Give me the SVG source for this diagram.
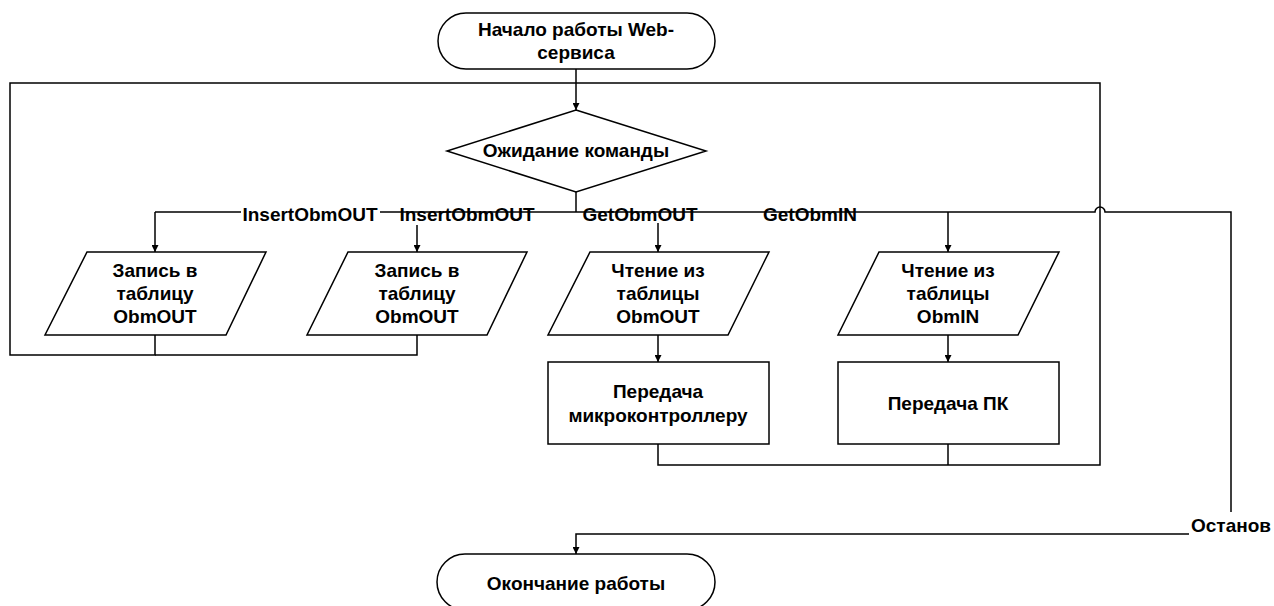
<svg xmlns="http://www.w3.org/2000/svg" width="1274" height="606" viewBox="0 0 1274 606">
<defs>
<style>
.s{fill:#fff;stroke:#000;stroke-width:1.5}
.c{fill:none;stroke:#000;stroke-width:1.5}
text{font-family:"Liberation Sans",Arial,sans-serif;font-weight:bold;font-size:19px;fill:#000;text-anchor:middle}
.bg{fill:#fff;stroke:none}
</style>
<marker id="ah" viewBox="0 0 10 10" refX="10" refY="5" markerWidth="7" markerHeight="7" markerUnits="userSpaceOnUse" orient="auto">
<path d="M0,0 L10,5 L0,10 z" fill="#000"/>
</marker>
</defs>
<rect width="1274" height="606" fill="#fff"/>

<g id="connectors">
<path class="c" d="M155,335 V355 H10 V83 H1100 V465 H658 V444"/>
<path class="c" d="M417,335 V355 H155"/>
<path class="c" d="M948,444 V465"/>
<path class="c" d="M576,69 V110" marker-end="url(#ah)"/>
<path class="c" d="M576,192 V212"/>
<path class="c" d="M155,212 H1095 A5,5 0 0 1 1105,212 H1231 V512"/>
<path class="c" d="M155,212 V252" marker-end="url(#ah)"/>
<path class="c" d="M417,225 V252" marker-end="url(#ah)"/>
<path class="c" d="M658,223 V252" marker-end="url(#ah)"/>
<path class="c" d="M948,212 V252" marker-end="url(#ah)"/>
<path class="c" d="M658,335 V362" marker-end="url(#ah)"/>
<path class="c" d="M948,335 V362" marker-end="url(#ah)"/>
<path class="c" d="M1189,534 H576 V554" marker-end="url(#ah)"/>
<rect class="bg" x="241" y="203" width="139" height="22"/>
<text x="310" y="221">InsertObmOUT</text>
<text x="467" y="221">InsertObmOUT</text>
<text x="640" y="221">GetObmOUT</text>
<text x="810" y="221">GetObmIN</text>
<text x="1231" y="532">Останов</text>
</g>

<g id="start">
<rect class="s" x="438" y="13" width="277" height="56" rx="28" ry="28"/>
<text x="576" y="36">Начало работы Web-</text>
<text x="576" y="59">сервиса</text>
</g>

<g id="wait">
<polygon class="s" points="576,110 706,151 576,192 447,151"/>
<text x="576" y="157">Ожидание команды</text>
</g>

<g id="write1">
<polygon class="s" points="87,252 266,252 226,335 45,335"/>
<text x="155" y="277">Запись в</text>
<text x="155" y="300">таблицу</text>
<text x="155" y="323">ObmOUT</text>
</g>

<g id="write2">
<polygon class="s" points="348,252 527,252 487,335 307,335"/>
<text x="417" y="277">Запись в</text>
<text x="417" y="300">таблицу</text>
<text x="417" y="323">ObmOUT</text>
</g>

<g id="read1">
<polygon class="s" points="590,252 769,252 728,335 548,335"/>
<text x="658" y="277">Чтение из</text>
<text x="658" y="300">таблицы</text>
<text x="658" y="323">ObmOUT</text>
</g>

<g id="read2">
<polygon class="s" points="879,252 1059,252 1018,335 838,335"/>
<text x="948" y="277">Чтение из</text>
<text x="948" y="300">таблицы</text>
<text x="948" y="323">ObmIN</text>
</g>

<g id="send1">
<rect class="s" x="548" y="362" width="221" height="82"/>
<text x="658" y="398">Передача</text>
<text x="658" y="422">микроконтроллеру</text>
</g>

<g id="send2">
<rect class="s" x="838" y="362" width="221" height="82"/>
<text x="948" y="410">Передача ПК</text>
</g>

<g id="end">
<rect class="s" x="437" y="554" width="278" height="56" rx="28" ry="28"/>
<text x="576" y="590">Окончание работы</text>
</g>
</svg>
